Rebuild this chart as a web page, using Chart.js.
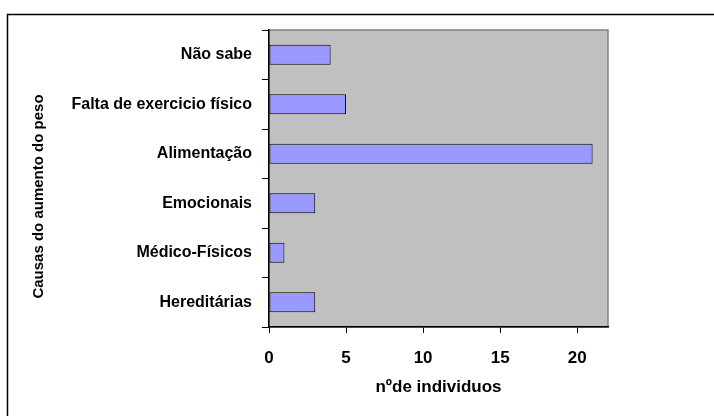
<!DOCTYPE html>
<html>
<head>
<meta charset="utf-8">
<script src="https://cdn.jsdelivr.net/npm/chart.js@4.4.0/dist/chart.umd.min.js"></script>
<style>
    html, body { margin: 0; padding: 0; background: #fff; }
    #wrap { width: 714px; height: 416px; position: relative; }
</style>
</head>
<body>
<div id="wrap"><canvas id="causesChart" width="714" height="416"></canvas></div>
<script>
// ===================================
// DATA
// ===================================

const categories = ['Não sabe', 'Falta de exercicio físico', 'Alimentação', 'Emocionais', 'Médico-Físicos', 'Hereditárias'];
const individuals = [4, 5, 21, 3, 1, 3];
const xTicks = [0, 5, 10, 15, 20];
const xTitle = 'nºde individuos';
const yTitle = 'Causas do aumento do peso';

const FONT = '"Liberation Sans", Arial, sans-serif';

// ===================================
// PLUGINS
// ===================================

// Outer frame + grey plot background
const frameAndPlot = {
    id: 'frameAndPlot',
    beforeDraw(chart) {
        const ctx = chart.ctx;
        const area = chart.chartArea;
        ctx.save();
        ctx.fillStyle = '#ffffff';
        ctx.fillRect(0, 0, chart.width, chart.height);

        // frame (only left and top edges are inside the picture)
        ctx.strokeStyle = '#000000';
        ctx.lineWidth = 1.5;
        ctx.beginPath();
        ctx.moveTo(7.5, chart.height + 2);
        ctx.lineTo(7.5, 14.5);
        ctx.lineTo(chart.width + 2, 14.5);
        ctx.stroke();

        ctx.fillStyle = '#c0c0c0';
        ctx.fillRect(area.left, area.top, area.right - area.left, area.bottom - area.top);
        ctx.strokeStyle = '#808080';
        ctx.lineWidth = 1.5;
        ctx.strokeRect(area.left, area.top, area.right - area.left, area.bottom - area.top);
        ctx.restore();
    }
};

// Y axis title sits a bit below the plot centre in the original
const yAxisTitle = {
    id: 'yAxisTitle',
    afterDraw(chart) {
        const ctx = chart.ctx;
        const area = chart.chartArea;
        ctx.save();
        ctx.translate(39, (area.top + area.bottom) / 2 + 18);
        ctx.rotate(-Math.PI / 2);
        ctx.font = 'bold 15px ' + FONT;
        ctx.fillStyle = '#000000';
        ctx.textAlign = 'center';
        ctx.textBaseline = 'middle';
        ctx.fillText(yTitle, 0, 0);
        ctx.restore();
    }
};

// ===================================
// CHART
// ===================================

const ctx = document.getElementById('causesChart').getContext('2d');

new Chart(ctx, {
    type: 'bar',
    data: {
        labels: categories,
        datasets: [{
            data: individuals,
            backgroundColor: '#9999ff',
            borderColor: '#000000',
            borderWidth: 1,
            borderSkipped: false,
            categoryPercentage: 1,
            barPercentage: 0.4
        }]
    },
    options: {
        indexAxis: 'y',
        responsive: false,
        animation: false,
        layout: {
            padding: { top: 30, right: 106, left: 0, bottom: 0 }
        },
        plugins: {
            legend: { display: false },
            tooltip: { enabled: false }
        },
        scales: {
            x: {
                min: 0,
                max: 22,
                afterBuildTicks: (scale) => {
                    scale.ticks = xTicks.map(v => ({ value: v }));
                },
                afterFit: (scale) => { scale.height = 89; },
                grid: {
                    drawOnChartArea: false,
                    drawTicks: true,
                    tickLength: 6,
                    color: '#000000'
                },
                border: { color: '#000000', width: 1.5 },
                ticks: {
                    color: '#000000',
                    padding: 15,
                    maxRotation: 0,
                    font: { family: FONT, size: 17, weight: 'bold' }
                },
                title: {
                    display: true,
                    text: xTitle,
                    color: '#000000',
                    padding: { top: 0, bottom: 18 },
                    font: { family: FONT, size: 17, weight: 'bold' }
                }
            },
            y: {
                afterFit: (scale) => { scale.width = 269; },
                grid: {
                    drawOnChartArea: false,
                    drawTicks: true,
                    tickLength: 7,
                    color: '#000000'
                },
                border: { color: '#000000', width: 1.5 },
                ticks: {
                    color: '#000000',
                    padding: 10,
                    font: { family: FONT, size: 16, weight: 'bold' }
                },
                title: { display: false }
            }
        }
    },
    plugins: [frameAndPlot, yAxisTitle]
});
</script>
</body>
</html>
